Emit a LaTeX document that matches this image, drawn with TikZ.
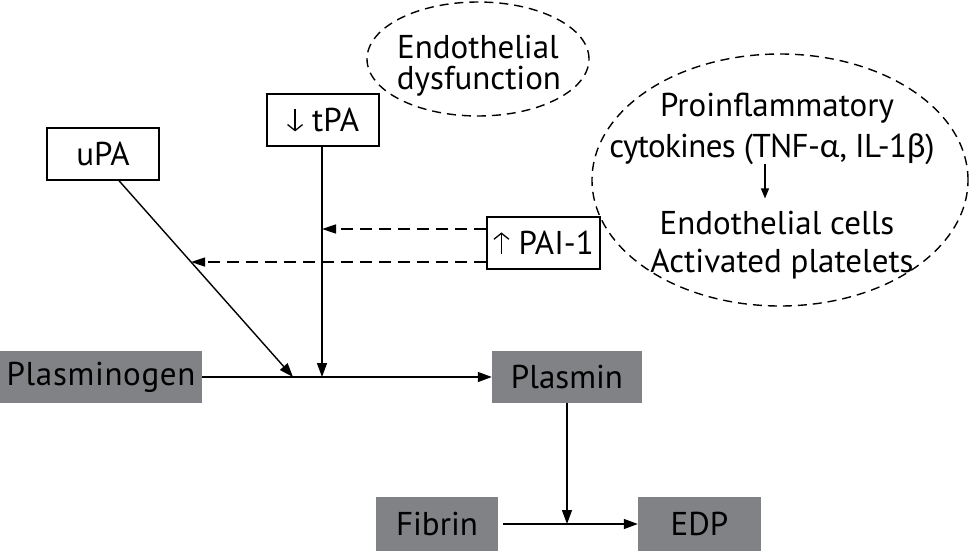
\documentclass[tikz,border=0pt]{standalone}
\usepackage{fontspec}
\setmainfont{PT Sans}
\newfontfamily\grk{Lato}
\usetikzlibrary{arrows.meta,shapes.geometric,calc}
\newcommand{\dnarr}{\tikz[baseline=0pt]\draw[line width=1.3pt,-{Straight Barb[length=6pt,width=15pt,line width=1.3pt]}] (0pt,22pt) -- (0pt,0pt);\hspace{9pt}}
\newcommand{\uparr}{\tikz[baseline=0pt]\draw[line width=1.3pt,-{Straight Barb[length=6pt,width=15pt,line width=1.3pt]}] (0pt,0pt) -- (0pt,22pt);\hspace{9pt}}
\definecolor{boxgray}{RGB}{128,130,133}
\begin{document}
\begin{tikzpicture}[x=1pt,y=-1pt,
  every node/.style={font=\fontsize{33}{30}\selectfont},
  wbox/.style={draw=black,line width=1.4pt,fill=white,inner sep=0pt},
  gbox/.style={fill=boxgray,inner sep=0pt},
  conn/.style={line width=1.4pt,-{Triangle[length=14pt,width=10pt]}},
  sconn/.style={line width=1.2pt,-{Triangle[length=10pt,width=8pt]}},
  dconn/.style={line width=1.5pt,dash pattern=on 12pt off 7pt,-{Triangle[length=14pt,width=9pt]}},
  dell/.style={draw,ellipse,line width=1.4pt,dash pattern=on 9pt off 6pt,inner sep=0pt},
  lbl/.style={anchor=base,inner sep=0pt}]
\useasboundingbox (0,0) rectangle (969,551);
% boxes
\node[wbox,minimum width=112pt,minimum height=52pt] (upa) at (103,154) {uPA};
\node[wbox,minimum width=112pt,minimum height=52pt] (tpa) at (323,120) {\dnarr tPA};
\node[wbox,minimum width=113pt,minimum height=52pt] (pai) at (543.5,243) {\uparr PAI-1};
\node[gbox,minimum width=202pt,minimum height=52pt] (plg) at (101,377) {\addfontfeatures{LetterSpace=2}Plasminogen};
\node[gbox,minimum width=150pt,minimum height=52pt] (plm) at (567,377) {Plasmin};
\node[gbox,minimum width=122pt,minimum height=54pt] (fib) at (437,524) {Fibrin};
\node[gbox,minimum width=123pt,minimum height=54pt] (edp) at (699.5,524) {EDP};
% ellipses
\node[dell,minimum width=222pt,minimum height=114pt] (ed) at (478,59) {};
\node[dell,minimum width=376pt,minimum height=252pt] (inf) at (780,180) {};
\node[lbl] (ed1) at (478,59) {Endothelial};
\node[lbl] (ed2) at (479,89) {dysfunction};
\node[lbl] (p1) at (777,116) {Proinflammatory};
\node[lbl] (p2) at (772,157) {\addfontfeatures{LetterSpace=-2}cytokines (TNF-{\grk α}, IL-1{\grk β})};
\node[lbl] (e1) at (777,234) {Endothelial cells};
\node[lbl] (e2) at (782,272) {Activated platelets};
% connectors
\coordinate (u0) at ([xshift=16pt]upa.south);
\coordinate (j1) at (293,377);
\coordinate (j2) at (322,377);
\coordinate (d1) at (322,229);
\coordinate (d2) at (intersection of u0--j1 and 0,262--969,262);
\draw[conn] (plg.east) -- (plm.west);
\draw[conn] (u0) -- (j1);
\draw[conn] (tpa.south -| j2) -- (j2);
\draw[dconn] (pai.west |- d1) -- (d1);
\draw[dconn] (pai.west |- d2) -- (d2);
\coordinate (j3) at (plm.south |- fib.east);
\draw[conn] (plm.south) -- (j3);
\draw[conn] ([xshift=5pt]fib.east) -- (edp.west);
\draw[sconn] ([xshift=-7pt]p2.south) -- ([xshift=-7pt,yshift=12pt]p2.south |- e1.north);
\end{tikzpicture}
\end{document}
